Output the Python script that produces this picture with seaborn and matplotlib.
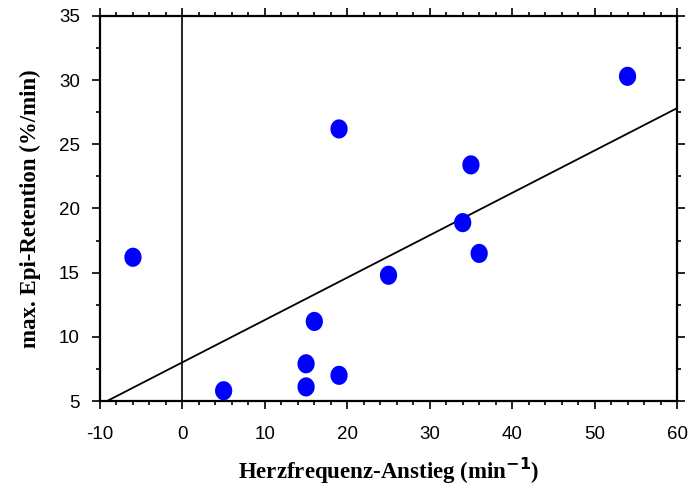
import numpy as np
import pandas as pd
import matplotlib
matplotlib.use("Agg")
import matplotlib.pyplot as plt
from matplotlib.ticker import MultipleLocator
from matplotlib.path import Path
import seaborn as sns

# Heart-rate increase (1/min) vs. maximal epinephrine retention (%/min)
hf_anstieg = [-6, 5, 15, 15, 16, 19, 19, 25, 34, 35, 36, 54]
epi_retention = [16.2, 5.8, 6.1, 7.9, 11.2, 7.0, 26.2, 14.8, 18.9, 23.4, 16.5, 30.3]

x_ticks = [-10, 0, 10, 20, 30, 40, 50, 60]
y_ticks = [5, 10, 15, 20, 25, 30, 35]

df = pd.DataFrame({"hf": hf_anstieg, "epi": epi_retention})

sns.set_style("ticks")
plt.rcParams["font.family"] = ["Liberation Sans", "DejaVu Sans"]
plt.rcParams["axes.unicode_minus"] = False
plt.rcParams["text.color"] = "black"
plt.rcParams["xtick.labelcolor"] = "black"
plt.rcParams["ytick.labelcolor"] = "black"

fig = plt.figure(figsize=(6.9, 4.87), dpi=100)
ax = fig.add_axes([100 / 690, 86 / 487, 577 / 690, 385 / 487])

ax.set_xlim(-10, 60)
ax.set_ylim(5, 35)

# slightly upright ellipse marker
t = np.linspace(0, 2 * np.pi, 60)
ellipse = Path(np.column_stack([0.9 * np.cos(t), np.sin(t)]), closed=True)

# least-squares line across the full x range
sns.regplot(data=df, x="hf", y="epi", scatter=False, ci=None, truncate=False,
            line_kws=dict(color="black", lw=1.3), ax=ax)
ax.axvline(0, color="black", lw=1.2, zorder=1)

sns.scatterplot(data=df, x="hf", y="epi", marker=ellipse, s=190,
                color="#0000ff", edgecolor="none", linewidth=0, ax=ax, zorder=3)

ax.set_xlim(-10, 60)
ax.set_ylim(5, 35)
ax.set_xticks(x_ticks)
ax.set_yticks(y_ticks)
ax.xaxis.set_minor_locator(MultipleLocator(2))
ax.yaxis.set_minor_locator(MultipleLocator(2.5))

for side in ["left", "right", "top", "bottom"]:
    ax.spines[side].set_visible(True)
    ax.spines[side].set_linewidth(1.6)
    ax.spines[side].set_color("black")

ax.tick_params(which="both", direction="out", top=True, right=True,
               labeltop=False, labelright=False, width=1.2, color="black",
               labelcolor="black")
ax.tick_params(which="major", length=6)
ax.tick_params(which="minor", length=3)
ax.tick_params(axis="x", which="major", pad=12, labelsize=13.5)
ax.tick_params(axis="y", which="major", pad=8.5, labelsize=13.5)

label_font = dict(family=["Liberation Serif", "DejaVu Serif"], weight="bold",
                  size=16.5, color="black")
ax.set_xlabel("Herzfrequenz-Anstieg (min$^{\\mathbf{-1}}$)", labelpad=9, **label_font)
ax.set_ylabel("max. Epi-Retention (%/min)", labelpad=12.5, **label_font)

fig.savefig("out.png", dpi=100)
